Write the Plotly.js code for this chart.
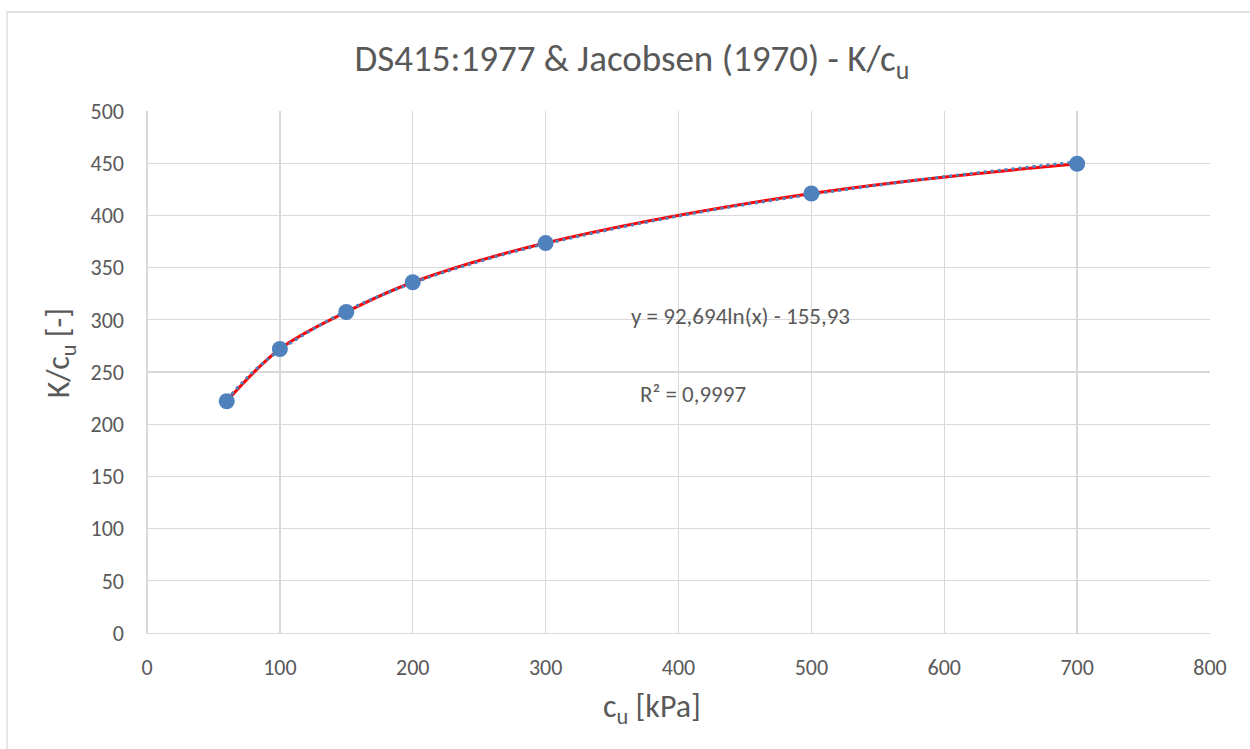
<!DOCTYPE html>
<html>
<head>
<meta charset="utf-8">
<script src="https://cdn.plot.ly/plotly-3.0.1.min.js"></script>
<style>
html,body{margin:0;padding:0;background:#fff;}
#chart{width:1250px;height:749px;}
</style>
</head>
<body>
<div id="chart"></div>
<script>
// Data
const cu = [60, 100, 150, 200, 300, 500, 700];
const kcu = [222, 272, 307.5, 336, 373.5, 421, 449.5];

// Logarithmic trendline (dotted blue)
const trendX = [60, 80, 100, 150, 200, 250, 300, 400, 500, 600, 700];
const trendY = [223.6, 250.3, 270.9, 308.5, 335.2, 355.9, 372.8, 399.4, 420.1, 437.0, 451.3];

const titleText = "DS415:1977 & Jacobsen (1970) - K/c<sub>u</sub>";
const xTitleText = "c<sub>u</sub> [kPa]";
const yTitleText = "K/c<sub>u</sub> [-]";
const eqText = "y = 92,694ln(x) - 155,93";
const r2Text = "R² = 0,9997";

const FONT = "Carlito, Calibri, Lato, 'Liberation Sans', sans-serif";
const GREY = "#595959";
const GRID = "#d9d9d9";
const BLUE = "#4f81bd";

const traces = [
  {
    x: cu, y: kcu, type: "scatter", mode: "lines",
    line: {color: "#ff0000", width: 3, shape: "spline", smoothing: 1},
    hoverinfo: "skip", showlegend: false
  },
  {
    x: trendX, y: trendY, type: "scatter", mode: "lines",
    line: {color: BLUE, width: 3, dash: "3px,4px", shape: "spline"},
    hoverinfo: "skip", showlegend: false
  },
  {
    x: cu, y: kcu, type: "scatter", mode: "markers",
    marker: {color: BLUE, size: 16},
    showlegend: false
  }
];

const layout = {
  width: 1250, height: 749,
  margin: {l: 147, r: 40, t: 111, b: 116},
  paper_bgcolor: "#ffffff", plot_bgcolor: "#ffffff",
  font: {family: FONT, color: GREY, size: 22},
  title: {
    text: titleText,
    font: {family: FONT, size: 37, color: GREY},
    x: 0.5055, xanchor: "center", y: 0.922, yanchor: "middle"
  },
  xaxis: {
    range: [0, 800], dtick: 100, tick0: 0,
    showgrid: true, gridcolor: GRID, gridwidth: 1.3,
    zeroline: true, zerolinecolor: GRID, zerolinewidth: 1.3,
    showline: true, linecolor: GRID, linewidth: 1.3,
    ticks: "", ticklen: 0, ticklabelstandoff: 14,
    tickfont: {family: FONT, size: 22, color: GREY}
  },
  yaxis: {
    range: [0, 500], dtick: 50, tick0: 0,
    showgrid: true, gridcolor: GRID, gridwidth: 1.3,
    zeroline: false,
    showline: false,
    ticks: "", ticklen: 0, ticklabelstandoff: 22,
    tickfont: {family: FONT, size: 22, color: GREY}
  },
  annotations: [
    {x: 446.3, y: 303.6, xref: "x", yref: "y", text: eqText, showarrow: false,
     xanchor: "center", yanchor: "middle", font: {family: FONT, size: 23, color: GREY}},
    {x: 410.9, y: 228.9, xref: "x", yref: "y", text: r2Text, showarrow: false,
     xanchor: "center", yanchor: "middle", font: {family: FONT, size: 23, color: GREY}},
    {x: 0.475, y: -0.145, xref: "paper", yref: "paper", text: xTitleText, showarrow: false,
     xanchor: "center", yanchor: "middle", font: {family: FONT, size: 32, color: GREY}},
    {x: -0.0818, y: 0.536, xref: "paper", yref: "paper", text: yTitleText, showarrow: false,
     textangle: -90, xanchor: "center", yanchor: "middle", font: {family: FONT, size: 32, color: GREY}}
  ],
  shapes: [
    {type: "rect", xref: "paper", yref: "paper",
     x0: -0.1317, x1: 1.06, y0: -0.25, y1: 1.1897,
     line: {color: GRID, width: 1.3}, fillcolor: "rgba(0,0,0,0)", layer: "below"}
  ]
};

Plotly.newPlot("chart", traces, layout, {displayModeBar: false, staticPlot: true});
</script>
</body>
</html>
